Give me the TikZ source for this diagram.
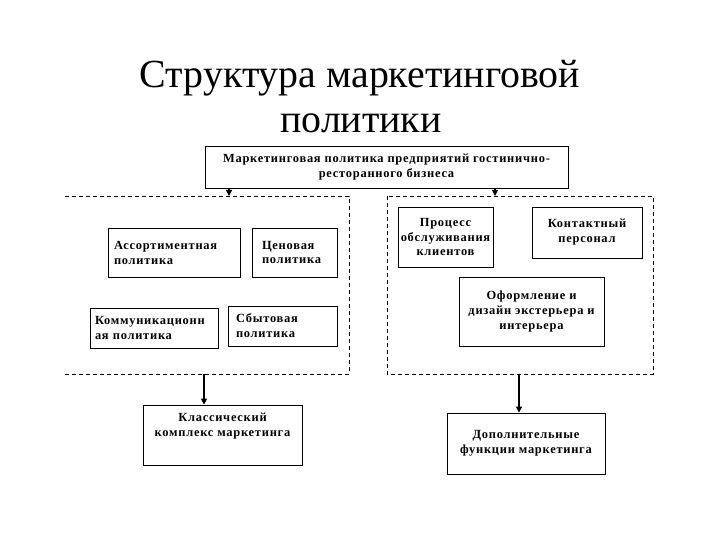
\documentclass[tikz,border=0pt]{standalone}
\usepackage{fontspec}
\setmainfont{Liberation Serif}
\newfontfamily\boxfont[LetterSpace=6]{Liberation Serif}
\usetikzlibrary{arrows.meta}
\begin{document}
\begin{tikzpicture}[x=1bp,y=-1bp,
    box/.style={draw,line width=0.8bp,inner sep=0pt,font=\boxfont\fontsize{12.5}{15}\selectfont\bfseries},
    txt/.style={inner sep=0pt,align=center,font=\boxfont\fontsize{12.5}{15}\selectfont\bfseries},
    grp/.style={line width=0.8bp,dash pattern=on 4bp off 3bp},
    arr/.style={-{Triangle[length=6bp,width=6bp]},line width=1.2bp},
    big/.style={font=\fontsize{40}{46}\selectfont,inner sep=0pt,anchor=base}]
    \useasboundingbox (0,0) rectangle (720,540);
    % title
    \node [big] (title1) at (360,88) {Структура маркетинговой};
    \node [big] (title2) at (361,133) {политики};
    \node [box,minimum width=363bp,minimum height=42bp,align=center] (mkt) at (386.5,167)
        {Маркетинговая политика предприятий гостинично-\\ресторанного бизнеса};
    % left group (classic mix)
    \draw [grp] (65,196) -- (349,196) -- (349,374) -- (65,374);
    \node [box,minimum width=132bp,minimum height=49bp,text width=120bp,align=left] (assort) at (174,252.5) {Ассортиментная\\политика};
    \node [box,minimum width=85bp,minimum height=49bp,text width=65bp,align=left] (price) at (294.5,252.5) {Ценовая\\политика};
    \node [box,minimum width=128bp,minimum height=40bp,text width=118bp,align=left] (comm) at (154,328) {Коммуникационн\\ая политика};
    \node [box,minimum width=109bp,minimum height=40bp,text width=93bp,align=left] (sales) at (282.5,326) {Сбытовая\\политика};
    % right group (extra functions)
    \draw [grp] (387,196) rectangle (653,374);
    \node [box,minimum width=95bp,minimum height=60bp,align=center] (serv) at (445.5,237) {Процесс\\обслуживания\\клиентов};
    \node [box,minimum width=110bp,minimum height=51bp,align=center] (staff) at (587,232.5) {Контактный\\персонал};
    \node [box,minimum width=145bp,minimum height=69bp,align=center] (design) at (531.5,311.5) {Оформление и\\дизайн экстерьера и\\интерьера};
    % results
    \node [box,minimum width=159bp,minimum height=60bp] (klass) at (222.5,435) {};
    \node [txt] (klasstxt) at ([yshift=8.5bp]klass.center) {Классический\\комплекс маркетинга};
    \node [box,minimum width=158bp,minimum height=61bp,align=center] (extra) at (526,443.5) {Дополнительные\\функции маркетинга};
    % arrows
    \coordinate (lin) at (229,196);
    \coordinate (rin) at (495,196);
    \coordinate (lout) at (204,374);
    \coordinate (rout) at (519,374);
    \draw [arr] (lin |- mkt.south) -- (lin);
    \draw [arr] (rin |- mkt.south) -- (rin);
    \draw [arr,line width=2bp] (lout) -- (lout |- klass.north);
    \draw [arr,line width=2bp] (rout) -- (rout |- extra.north);
\end{tikzpicture}
\end{document}
